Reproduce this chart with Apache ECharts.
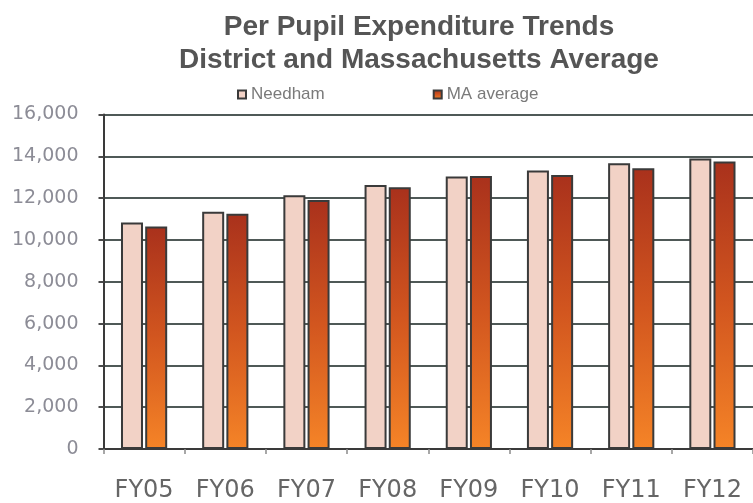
<!DOCTYPE html>
<html>
<head>
<meta charset="utf-8">
<script src="https://cdn.jsdelivr.net/npm/echarts@6/dist/echarts.min.js"></script>
<style>
  html, body { margin: 0; padding: 0; background: #ffffff; }
  #chart { width: 753px; height: 503px; }
</style>
</head>
<body>
<div id="chart"></div>
<script>
// Fiscal years on the category axis
var years = ['FY05', 'FY06', 'FY07', 'FY08', 'FY09', 'FY10', 'FY11', 'FY12'];
// Per pupil expenditure, dollars
var needham = [10830, 11350, 12140, 12630, 13030, 13320, 13670, 13900];
var maAverage = [10640, 11250, 11910, 12520, 13060, 13110, 13430, 13750];
// Value axis ticks
var yTicks = [0, 2000, 4000, 6000, 8000, 10000, 12000, 14000, 16000];

var chart = echarts.init(document.getElementById('chart'));

var maGradient = new echarts.graphic.LinearGradient(0, 0, 0, 1, [
  { offset: 0, color: '#a9311c' },
  { offset: 0.5, color: '#d2561f' },
  { offset: 1, color: '#f58427' }
]);

chart.setOption({
  backgroundColor: '#ffffff',
  animation: false,
  title: {
    text: 'Per Pupil Expenditure Trends\nDistrict and Massachusetts Average',
    left: 414,
    top: 6,
    textAlign: 'center',
    textStyle: {
      fontFamily: 'Liberation Sans, Arial, sans-serif',
      fontWeight: 'bold',
      fontSize: 28,
      lineHeight: 33,
      color: '#555555'
    }
  },
  legend: {
    left: 232,
    top: 81,
    itemWidth: 8,
    itemHeight: 8,
    itemGap: 108,
    icon: 'rect',
    textStyle: {
      fontFamily: 'Liberation Sans, Arial, sans-serif',
      fontSize: 17,
      color: '#7a7a7a'
    },
    data: ['Needham', 'MA average']
  },
  grid: {
    left: 103.5,
    top: 114.5,
    width: 658.5,
    height: 334.5
  },
  xAxis: {
    type: 'category',
    data: years,
    axisLine: { lineStyle: { color: '#3a3a3a', width: 2 } },
    axisTick: { show: true, length: 5, lineStyle: { color: '#8a8a8a', width: 1.5 } },
    axisLabel: {
      margin: 30,
      fontFamily: 'DejaVu Sans, sans-serif',
      fontSize: 24,
      color: '#666666'
    }
  },
  yAxis: {
    type: 'value',
    min: yTicks[0],
    max: yTicks[yTicks.length - 1],
    interval: yTicks[1] - yTicks[0],
    axisLine: { show: true, lineStyle: { color: '#3a3a3a', width: 2 } },
    axisTick: { show: true, length: 5, lineStyle: { color: '#4a4a4a', width: 2 } },
    splitLine: { lineStyle: { color: '#4f5957', width: 2 } },
    axisLabel: {
      margin: 25,
      fontFamily: 'DejaVu Sans, sans-serif',
      fontSize: 19,
      color: '#8c8c96',
      formatter: function (v) { return v.toLocaleString('en-US'); }
    }
  },
  series: [
    {
      name: 'Needham',
      type: 'bar',
      data: needham,
      barWidth: 22,
      barGap: '10%',
      itemStyle: { color: '#f2d2c6', borderColor: '#3a3a3a', borderWidth: 2 }
    },
    {
      name: 'MA average',
      type: 'bar',
      data: maAverage,
      barWidth: 22,
      itemStyle: { color: maGradient, borderColor: '#3a3a3a', borderWidth: 2 }
    }
  ]
});
</script>
</body>
</html>
